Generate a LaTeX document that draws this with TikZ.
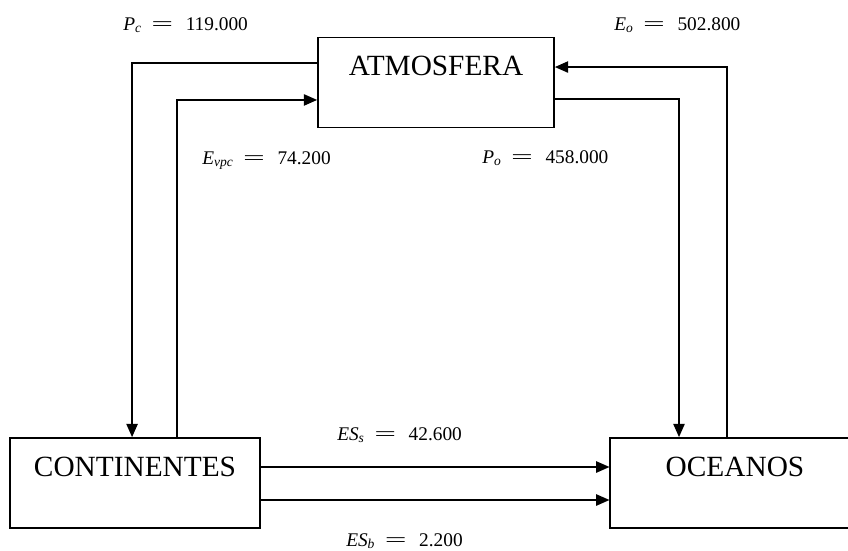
\documentclass[tikz,border=0pt]{standalone}
\usepackage{fontspec}
\usepackage{graphicx}
\setmainfont{Liberation Serif}
\usetikzlibrary{arrows.meta}
\newcommand{\igual}{\hspace{0.5em}\scalebox{2}[1]{=}\hspace{0.65em}}
\tikzset{
  caja/.style={draw, line width=1.3pt, inner sep=0pt, minimum width=#1,
    text height=28.5pt, text depth=39pt, font=\fontsize{22}{26}\selectfont},
  caja/.default=187pt,
  flujo/.style={line width=1.2pt, -{Triangle[length=10pt,width=8.5pt]}},
  dato/.style={anchor=base west, inner sep=0pt, font=\fontsize{14.5}{17}\selectfont}
}
\begin{document}
\begin{tikzpicture}[x=0.75pt, y=-0.75pt]
  \useasboundingbox (0,0) rectangle (848,550);
  \clip (0,0) rectangle (848,550);
  % cajas
  \node[caja=177pt] (atm) at (436,82.5) {ATMOSFERA};
  \node[caja] (cont) at (135,483) {CONTINENTES};
  \node[caja] (ocea) at (735,483) {OCEANOS};
  % flujos
  \draw[flujo] ([yshift=14.6pt]atm.west) -| ([xshift=-2.2pt]cont.north);
  \draw[flujo] ([xshift=31.5pt]cont.north) |- ([yshift=-13.1pt]atm.west);
  \draw[flujo] ([yshift=-12.4pt]atm.east) -| ([xshift=-42pt]ocea.north);
  \draw[flujo] ([xshift=-6pt]ocea.north) |- ([yshift=11.6pt]atm.east);
  \draw[flujo] ([yshift=12pt]cont.east) -- ([yshift=12pt]ocea.west);
  \draw[flujo] ([yshift=-12.75pt]cont.east) -- ([yshift=-12.75pt]ocea.west);
  % valores
  \node[dato] (pc) at (123,30) {\textit{P}\textsubscript{\textit{c}}\igual119.000};
  \node[dato] (eo) at (614,30) {\textit{E}\textsubscript{\textit{o}}\igual502.800};
  \node[dato] (evpc) at (202,164) {\textit{E}\textsubscript{\textit{vpc}}\igual74.200};
  \node[dato] (po) at (482,163) {\textit{P}\textsubscript{\textit{o}}\igual458.000};
  \node[dato] (ess) at (337,440) {\textit{ES}\textsubscript{\textit{s}}\igual42.600};
  \node[dato] (esb) at (346,546) {\textit{ES}\textsubscript{\textit{b}}\igual2.200};
\end{tikzpicture}
\end{document}
